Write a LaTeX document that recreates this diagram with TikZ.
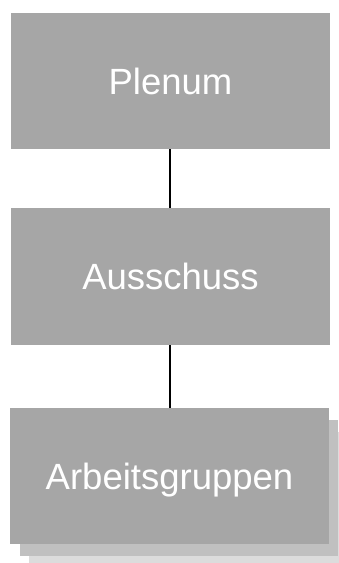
\documentclass[tikz,border=0pt]{standalone}
\usepackage{fontspec}
\setmainfont{Liberation Sans}
\definecolor{boxgray}{HTML}{A6A6A6}
\definecolor{shadowA}{HTML}{C0C0C0}
\definecolor{shadowB}{HTML}{DCDCDC}
\begin{document}
\begin{tikzpicture}[x=1pt,y=-1pt,
  orgbox/.style={fill=boxgray, draw=none, text=white, inner sep=0pt,
    minimum width=319pt, text height=26pt, text depth=0pt,
    font=\fontsize{36.5}{40}\selectfont},
  link/.style={draw=black, line width=1.1pt}]
\useasboundingbox (0,0) rectangle (339,563);
% shadows of the bottom box
\fill[shadowB] (29,432) rectangle (350,563);
\fill[shadowA] (20,420) rectangle (338,556);
% boxes
\node[orgbox, minimum height=136pt] (plenum) at (170.5,81) {Plenum};
\node[orgbox, minimum height=137pt] (ausschuss) at (170.5,276.5) {Ausschuss};
\node[orgbox, minimum height=136pt] (arbeit) at (169.5,476) {Arbeitsgruppen};
\draw[link] (plenum.south -| 170,0) -- (ausschuss.north -| 170,0);
\draw[link] (ausschuss.south -| 170,0) -- (arbeit.north -| 170,0);
\end{tikzpicture}
\end{document}
